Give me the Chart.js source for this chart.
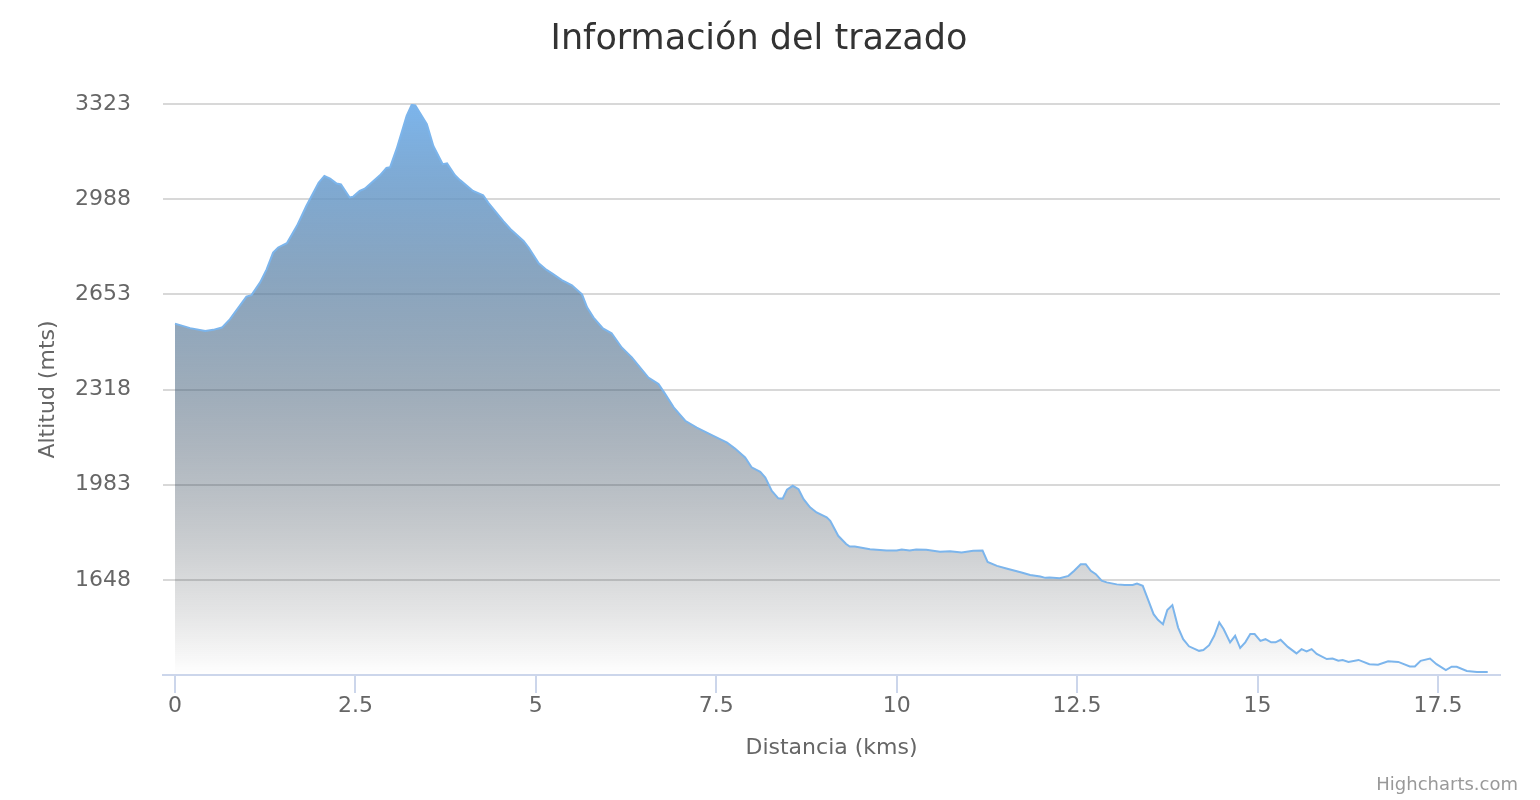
<!DOCTYPE html>
<html>
<head>
<meta charset="utf-8">
<title>Información del trazado</title>
<script src="https://cdn.jsdelivr.net/npm/chart.js@4/dist/chart.umd.min.js"></script>
<style>
    html, body { margin: 0; padding: 0; background: #ffffff; }
    #perfil { display: block; }
</style>
</head>
<body>
<canvas id="perfil" width="1540" height="800"></canvas>
<script>
const chartTitle = 'Información del trazado';
const xTitle = 'Distancia (kms)';
const yTitle = 'Altitud (mts)';
const credits = 'Highcharts.com';

// distance along the route (km) and altitude (m)
const distances = [
    0, 0.21, 0.42, 0.53, 0.65, 0.76, 0.99, 1.06, 1.18, 1.27, 1.36, 1.43, 1.55, 1.69, 1.82,
    1.99, 2.07, 2.15, 2.24, 2.30, 2.42, 2.47, 2.56, 2.63, 2.75, 2.84, 2.93, 2.98, 3.07, 3.21,
    3.28, 3.33, 3.49, 3.58, 3.71, 3.77, 3.88, 3.95, 4.13, 4.27, 4.34, 4.55, 4.65, 4.83, 4.90,
    5.04, 5.15, 5.24, 5.36, 5.50, 5.64, 5.71, 5.80, 5.93, 6.05, 6.19, 6.33, 6.56, 6.70, 6.78,
    6.91, 7.07, 7.23, 7.46, 7.65, 7.76, 7.90, 7.99, 8.11, 8.18, 8.27, 8.36, 8.42, 8.48, 8.56,
    8.64, 8.71, 8.80, 8.89, 9.03, 9.08, 9.19, 9.30, 9.35, 9.42, 9.63, 9.86, 10.00, 10.07, 10.18,
    10.27, 10.41, 10.60, 10.74, 10.90, 11.06, 11.19, 11.26, 11.39, 11.52, 11.73, 11.85, 11.99, 12.06, 12.12,
    12.26, 12.38, 12.46, 12.55, 12.62, 12.69, 12.76, 12.84, 12.91, 13.05, 13.16, 13.27, 13.33, 13.41, 13.49,
    13.56, 13.62, 13.69, 13.75, 13.82, 13.90, 13.97, 14.05, 14.19, 14.25, 14.33, 14.40, 14.47, 14.53, 14.62,
    14.69, 14.76, 14.83, 14.90, 14.96, 15.04, 15.11, 15.19, 15.25, 15.32, 15.42, 15.54, 15.61, 15.68, 15.75,
    15.82, 15.96, 16.04, 16.12, 16.18, 16.26, 16.40, 16.55, 16.67, 16.81, 16.95, 17.11, 17.18, 17.26, 17.39,
    17.48, 17.61, 17.69, 17.76, 17.90, 18.04, 18.19
];
const altitudes = [
    2550, 2534, 2524, 2528, 2536, 2565, 2645, 2650, 2695, 2741, 2800, 2818, 2833, 2894, 2964,
    3046, 3070, 3060, 3043, 3040, 2994, 2997, 3017, 3025, 3052, 3072, 3098, 3100, 3164, 3281,
    3320, 3318, 3252, 3175, 3111, 3114, 3072, 3055, 3017, 3002, 2976, 2911, 2882, 2841, 2818,
    2762, 2739, 2724, 2703, 2685, 2653, 2607, 2571, 2533, 2516, 2466, 2431, 2360, 2337, 2307,
    2255, 2208, 2184, 2155, 2131, 2110, 2079, 2044, 2028, 2008, 1961, 1935, 1934, 1965, 1979,
    1967, 1932, 1903, 1885, 1868, 1856, 1803, 1774, 1765, 1765, 1756, 1751, 1751, 1755, 1751,
    1755, 1754, 1747, 1749, 1744, 1750, 1751, 1711, 1697, 1688, 1674, 1665, 1660, 1655, 1656,
    1654, 1662, 1680, 1703, 1703, 1680, 1668, 1645, 1639, 1632, 1630, 1630, 1635, 1627, 1574,
    1527, 1507, 1492, 1542, 1559, 1480, 1439, 1414, 1398, 1401, 1418, 1451, 1498, 1475, 1428,
    1451, 1408, 1428, 1457, 1457, 1433, 1439, 1428, 1428, 1437, 1412, 1389, 1404, 1396, 1404,
    1387, 1369, 1371, 1363, 1366, 1359, 1366, 1351, 1349, 1361, 1359, 1343, 1343, 1363, 1371,
    1351, 1330, 1342, 1342, 1327, 1324, 1324
];

const xTicks = [0, 2.5, 5, 7.5, 10, 12.5, 15, 17.5];
const yTicks = [1313, 1648, 1983, 2318, 2653, 2988, 3323];
const xMin = -0.166;
const xMax = 18.36;
const yMin = 1313;
const yMax = 3323;

Chart.defaults.font.family = '"DejaVu Sans", sans-serif';

// blue that fades through grey to white, like the original gradient
function areaFill(context) {
    const area = context.chart.chartArea;
    if (!area) {
        return 'rgba(124, 181, 236, 0.5)';
    }
    const g = context.chart.ctx.createLinearGradient(0, area.top, 0, area.bottom);
    for (let i = 0; i <= 20; i++) {
        const t = i / 20;
        const k = 1 - t;
        g.addColorStop(t, 'rgba(' + Math.round(124 * k) + ',' + Math.round(181 * k) + ',' +
            Math.round(236 * k) + ',' + k.toFixed(3) + ')');
    }
    return g;
}

// title at the top and the credits line at the bottom right
const textPlugin = {
    id: 'extraText',
    afterDraw(chart) {
        const ctx = chart.ctx;
        ctx.save();
        ctx.textBaseline = 'alphabetic';
        ctx.fillStyle = '#333333';
        ctx.font = '35px "DejaVu Sans"';
        ctx.textAlign = 'center';
        ctx.fillText(chartTitle, 759, 49);
        ctx.fillStyle = '#999999';
        ctx.font = '18px "DejaVu Sans"';
        ctx.textAlign = 'right';
        ctx.fillText(credits, 1518, 790);
        ctx.restore();
    }
};

const ctx = document.getElementById('perfil').getContext('2d');
new Chart(ctx, {
    type: 'line',
    data: {
        datasets: [{
            label: yTitle,
            data: distances.map((d, i) => ({ x: d, y: altitudes[i] })),
            borderColor: '#7cb5ec',
            borderWidth: 2,
            backgroundColor: areaFill,
            fill: 'start',
            tension: 0,
            pointRadius: 0
        }]
    },
    options: {
        responsive: false,
        devicePixelRatio: 1,
        animation: false,
        layout: {
            padding: { left: 30, right: 40, top: 104, bottom: 39 }
        },
        plugins: {
            legend: { display: false },
            tooltip: { enabled: false },
            title: { display: false }
        },
        scales: {
            x: {
                type: 'linear',
                min: xMin,
                max: xMax,
                afterBuildTicks: (scale) => {
                    scale.ticks = xTicks.map(v => ({ value: v }));
                },
                afterFit: (scale) => {
                    scale.height = 86;
                },
                border: { display: true, color: '#ccd6eb', width: 2 },
                grid: {
                    drawOnChartArea: false,
                    drawTicks: true,
                    tickLength: 18,
                    color: '#ccd6eb',
                    lineWidth: 2
                },
                ticks: {
                    padding: 0,
                    color: '#666666',
                    font: { size: 22 },
                    maxRotation: 0,
                    callback: (v) => String(v)
                },
                title: {
                    display: true,
                    text: xTitle,
                    color: '#666666',
                    font: { size: 22 },
                    padding: 0
                }
            },
            y: {
                min: yMin,
                max: yMax,
                afterBuildTicks: (scale) => {
                    scale.ticks = yTicks.map(v => ({ value: v }));
                },
                afterFit: (scale) => {
                    scale.width = 133;
                },
                border: { display: false },
                grid: {
                    drawTicks: false,
                    lineWidth: 2,
                    color: (c) => (c.tick && c.tick.value === yMin) ? 'rgba(0,0,0,0)' : '#d8d8d8'
                },
                ticks: {
                    padding: 32,
                    color: '#666666',
                    font: { size: 22 },
                    callback: (v) => (v === yMin ? '' : String(v))
                },
                title: {
                    display: true,
                    text: yTitle,
                    color: '#666666',
                    font: { size: 22 },
                    padding: { top: 5, bottom: 0 }
                }
            }
        }
    },
    plugins: [textPlugin]
});
</script>
</body>
</html>
